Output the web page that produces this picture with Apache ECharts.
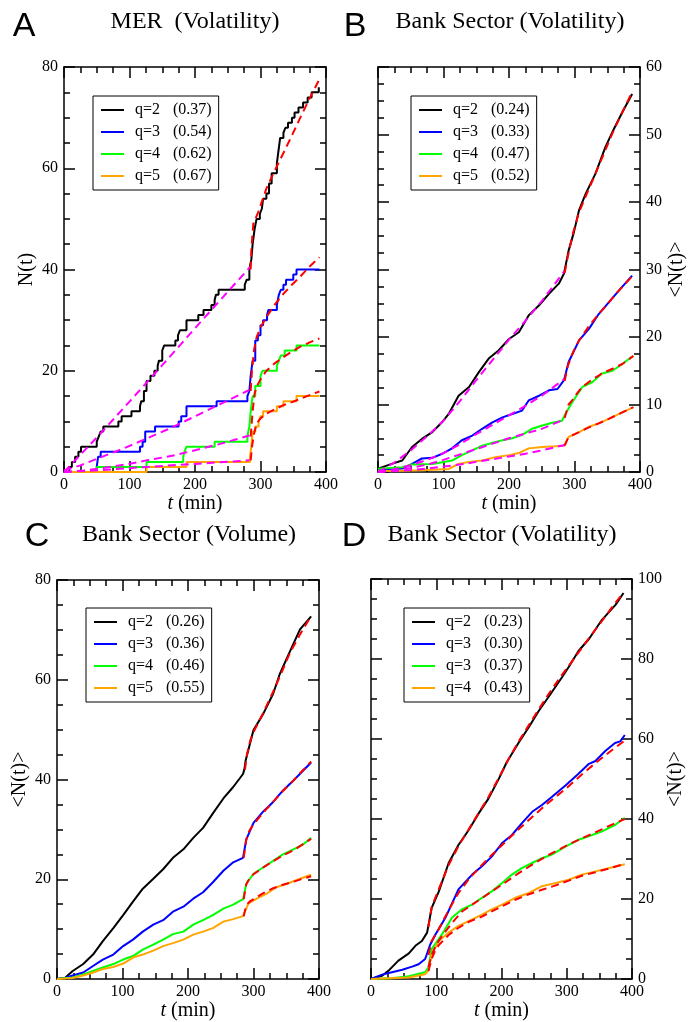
<!DOCTYPE html>
<html>
<head>
<meta charset="utf-8">
<script src="https://cdn.jsdelivr.net/npm/echarts@6/dist/echarts.min.js"></script>
<style>
html,body{margin:0;padding:0;background:#fff;}
#main{width:699px;height:1022px;}
</style>
</head>
<body>
<div id="main"></div>
<script>
// ---- panel A : MER (Volatility), step counts [t, N after jump]
var aQ2 = [[0,0],[8,1],[12,2],[17,3],[22,4],[26,5],[50,6],[53,7],[56,8],[60,9],[83,10],[88,11],[103,12],[116,13],[118,14],[122,16],[126,18],[132,19],[138,20],[143,21],[145,22],[150,24],[153,25],[170,26],[174,27],[177,28],[187,30],[205,31],[213,32],[225,33],[230,34],[232,35],[236,36],[276,37],[279,38],[283,40],[286,42],[288,45],[291,48],[294,50],[299,51],[302,52],[304,54],[309,55],[313,57],[317,59],[325,61],[328,64],[330,66],[335,67],[338,68],[342,69],[348,70],[352,71],[358,72],[365,73],[372,74],[378,75],[389,76],[390,76]];
var aQ3 = [[0,0],[50,1],[52,3],[56,4],[116,5],[120,6],[124,8],[139,9],[175,10],[179,11],[187,13],[233,14],[280,15],[283,16],[285,19],[288,22],[292,26],[296,27],[300,29],[304,30],[310,31],[312,32],[325,33],[328,35],[331,36],[335,37],[339,38],[350,39],[355,40],[390,40]];
var aQ4 = [[0,0],[50,1],[126,2],[182,3],[184,4],[187,5],[230,6],[280,7],[283,9],[285,12],[288,15],[292,17],[300,19],[303,20],[325,21],[328,22],[331,23],[337,24],[355,25],[390,25]];
var aQ5 = [[0,0],[126,1],[187,2],[284,3],[286,5],[288,8],[292,9],[297,10],[300,11],[304,12],[325,13],[335,14],[355,15],[390,15]];
var aPre = [
  [[0,0],[50,6.8],[100,13.9],[150,21.1],[200,28.4],[250,35.6],[285,40.6]],
  [[0,0.3],[25,1.3],[50,2.6],[90,4.6],[126,6.6],[165,8.8],[200,11],[240,13.5],[283,16.2]],
  [[0,0],[30,0.3],[60,0.8],[95,1.5],[126,2.3],[165,3.2],[200,4.3],[240,5.6],[283,7.2]],
  [[0,0],[60,0.4],[126,1.0],[200,1.6],[283,2.3]]
];
var aPost = [
  [[285,40],[286,44],[289,49],[297,51.5],[309,56],[322,59.6],[335,63],[348,66.5],[360,69.8],[375,73.8],[390,77.6]],
  [[285,16],[287,20],[290,24],[294,26.6],[300,28.6],[309,30.6],[322,33.1],[335,35.2],[348,37],[360,38.5],[375,40.6],[390,42.4]],
  [[285,7],[288,12],[291,15.5],[294,16.8],[300,18.3],[309,20],[322,21.5],[335,22.7],[348,23.8],[360,24.7],[375,25.6],[390,26.4]],
  [[285,2.3],[287,5],[290,7.5],[294,9.5],[300,10.6],[309,11.5],[322,12.4],[335,13.2],[348,13.8],[360,14.4],[375,15.2],[390,15.9]]
];

// ---- panel B : Bank Sector (Volatility)
var bQ2 = [[0,0.5],[21,1.2],[37,1.7],[52,3.7],[67,4.9],[83,5.9],[98,7.4],[108,8.6],[123,11.3],[139,12.6],[154,14.8],[169,16.8],[184,18],[200,19.7],[215,20.7],[230,23.2],[246,24.7],[261,26.4],[276,27.9],[284,29.4],[291,32.8],[299,35.5],[307,38.8],[317,41.2],[332,44.2],[347,48.1],[358,50.4],[373,53.3],[388,56]];
var bQ3 = [[0,0.3],[37,0.5],[52,1.2],[67,2.0],[83,2.1],[98,2.7],[113,3.5],[128,4.7],[144,5.4],[159,6.4],[174,7.3],[190,8.1],[205,8.6],[220,9.1],[230,10.6],[246,11.3],[261,12.1],[274,12.3],[284,13.6],[291,16.3],[307,19.5],[322,21.2],[337,23.4],[353,25.2],[368,26.9],[388,29.1]];
var bQ4 = [[0,0.5],[37,0.7],[52,1.1],[83,1.2],[113,1.7],[128,2.5],[144,3.2],[159,3.9],[174,4.3],[190,4.7],[205,5.0],[220,5.5],[235,6.4],[251,6.9],[266,7.3],[281,7.6],[286,8.6],[297,10.4],[312,12.6],[327,13.3],[342,14.6],[358,15.0],[373,16.0],[388,17.1]];
var bQ5 = [[0,0.2],[21,0.15],[67,0.25],[108,0.45],[123,1.2],[139,1.5],[159,1.7],[179,2.2],[200,2.5],[215,2.8],[230,3.5],[251,3.7],[271,3.8],[284,3.9],[291,5.2],[307,5.9],[322,6.7],[337,7.2],[353,7.9],[368,8.6],[388,9.5]];
var bPre = [
  [[0,0],[25,1.4],[50,3.2],[75,5.3],[100,7.6],[125,10.5],[150,13.6],[175,16.6],[200,19.6],[225,22.4],[250,25.3],[285,29.8]],
  [[0,0],[25,0.4],[50,1.0],[75,1.8],[100,2.8],[125,4.1],[150,5.6],[175,7.0],[200,8.4],[225,9.8],[250,11.3],[285,13.8]],
  [[0,0],[25,0.2],[50,0.6],[75,1.1],[100,1.8],[125,2.6],[150,3.4],[175,4.2],[200,5.0],[225,5.7],[250,6.4],[285,7.8]],
  [[0,0],[50,0.3],[75,0.5],[100,0.8],[125,1.1],[150,1.5],[175,1.9],[200,2.3],[225,2.7],[250,3.2],[285,4.0]]
];
var bPost = [
  [[285,29.5],[290,32],[298,35.5],[307,38.5],[320,41.5],[332,44.2],[345,47.2],[358,50.2],[373,53.3],[388,56.3]],
  [[285,13.5],[290,15.8],[298,17.8],[307,19.5],[322,21.6],[337,23.4],[353,25.2],[368,26.9],[390,29.2]],
  [[285,8],[291,10],[297,10.7],[305,11.8],[312,12.6],[327,13.7],[342,14.6],[358,15.3],[373,16.0],[390,17.2]],
  [[285,3.9],[290,5.0],[298,5.5],[307,5.9],[322,6.6],[337,7.2],[353,7.9],[368,8.6],[390,9.6]]
];

// ---- panel C : Bank Sector (Volume)
var cQ2 = [[0,0],[12,0.2],[24,1.6],[40,3.0],[55,4.9],[70,7.6],[86,10.2],[101,12.8],[116,15.5],[131,18.1],[147,20.1],[162,22.0],[177,24.3],[193,26.0],[208,28.3],[223,30.3],[238,33.2],[254,36.2],[269,38.5],[284,41.1],[286,42],[288,43.8],[300,49.9],[315,53.2],[330,57.2],[340,61.1],[356,65.8],[371,70.1],[388,72.7]];
var cQ3 = [[0,0],[12,0.2],[24,0.7],[40,1.3],[55,2.6],[70,3.9],[86,4.9],[101,6.6],[116,7.9],[131,9.5],[147,10.9],[162,11.8],[177,13.5],[193,14.5],[208,16.1],[223,17.4],[238,19.4],[254,21.7],[269,23.4],[284,24.3],[289,28],[300,31.3],[315,33.6],[330,35.5],[345,37.8],[361,39.8],[376,41.8],[388,43.4]];
var cQ4 = [[0,0],[24,0.3],[40,0.9],[55,1.6],[70,2.3],[86,3.0],[101,3.9],[116,4.6],[131,5.9],[147,6.9],[162,7.9],[177,9.0],[193,9.5],[208,10.9],[223,11.8],[238,12.8],[254,14.1],[269,14.9],[284,16.0],[289,19.1],[300,21.1],[315,22.4],[330,23.7],[345,25],[361,26],[376,27],[388,28.3]];
var cQ5 = [[0,0],[24,0.2],[40,0.7],[55,1.3],[70,2.0],[86,2.4],[101,3.1],[116,4.3],[131,4.9],[147,5.7],[162,6.6],[177,7.2],[193,7.9],[208,8.9],[223,9.5],[238,10.2],[254,11.5],[269,12.0],[284,12.6],[292,15.1],[305,16.1],[320,17.1],[335,18.4],[351,19.1],[371,20.1],[388,20.9]];
var cPost = [
  [[287,42],[290,45],[295,47.8],[300,49.5],[315,53.4],[330,57.6],[343,61.5],[356,65.5],[372,69.3],[388,72.8]],
  [[285,24.3],[289,28],[294,29.8],[300,31],[315,33.4],[330,35.5],[345,37.7],[361,39.8],[375,41.8],[388,43.6]],
  [[285,16],[289,19],[294,20.2],[300,21],[315,22.4],[330,23.6],[345,24.8],[361,25.8],[375,27],[388,28.1]],
  [[285,12.6],[289,14.8],[294,15.5],[300,16],[315,17.2],[330,18.2],[345,18.9],[361,19.5],[375,20.1],[388,20.6]]
];

// ---- panel D : Bank Sector (Volatility)
var dQ2 = [[0,0],[17,0.8],[27,2.1],[42,4.6],[58,6.4],[68,8.3],[78,9.5],[86,11.6],[93,17.8],[104,21.9],[119,29],[134,33.5],[150,37.3],[165,41.4],[180,45.1],[196,50.1],[208,54.2],[226,59],[242,63],[257,67],[272,70.5],[293,75.5],[303,78],[318,82],[334,85],[354,89.8],[375,93.6],[387,96.5]];
var dQ3 = [[0,0],[17,1.1],[32,1.7],[48,2.3],[63,3.1],[73,3.7],[83,5.0],[91,8.7],[99,11.2],[114,15.3],[134,22.4],[155,26.1],[170,28.2],[185,30.6],[201,34],[216,36],[231,38.9],[247,41.8],[262,43.5],[277,45.5],[298,48.4],[318,51.3],[334,53.8],[344,54.5],[359,57],[374,59],[382,59.4],[389,61]];
var dQ4 = [[0,0],[32,0.2],[58,0.7],[83,1.7],[88,2.9],[93,7.5],[109,11.2],[124,15.3],[139,17.4],[155,18.6],[170,20.3],[185,21.9],[201,24],[216,26.1],[231,27.7],[247,29],[262,30.2],[277,31.1],[298,33.1],[318,34.8],[339,36],[354,36.9],[374,38.5],[389,40.3]];
var dQ5 = [[0,0],[58,0.4],[83,1.2],[88,2.1],[93,6.2],[104,9.5],[119,11.6],[134,13.3],[155,14.9],[170,16.1],[185,17.4],[201,18.6],[221,20.3],[242,21.5],[262,23.2],[283,24],[303,24.8],[323,26.1],[344,26.9],[364,27.7],[389,28.7]];
var dPost = [
  [[88,13],[93,18],[104,22.5],[119,28.5],[134,33.2],[150,37.5],[165,41.5],[180,45.5],[196,50.3],[211,55],[226,59.3],[242,63.5],[257,67.4],[272,71.2],[292,75.9],[313,80.5],[333,85],[354,89.5],[370,93.1],[387,96.6]],
  [[88,6],[93,9.5],[104,12.5],[119,17.2],[134,21.5],[150,25],[170,28.5],[185,31],[201,33.5],[224,37.1],[247,40.5],[272,44.1],[298,47.5],[321,50.8],[344,54],[366,56.8],[388,59.5]],
  [[88,3],[93,6],[100,8.6],[109,10.8],[124,14],[139,16.8],[155,18.6],[170,20.2],[185,21.9],[201,23.6],[224,26.2],[247,28.6],[272,31],[298,33.2],[318,34.8],[339,36.3],[364,38.2],[389,40]],
  [[88,2],[93,5],[98,7],[104,8.5],[119,11],[134,12.8],[150,14.3],[170,15.6],[185,16.9],[201,18.2],[221,19.8],[242,21.2],[262,22.3],[283,23.4],[303,24.6],[323,25.8],[344,26.7],[364,27.6],[389,28.8]]
];

// legend texts
var legA = [['q=2','(0.37)'],['q=3','(0.54)'],['q=4','(0.62)'],['q=5','(0.67)']];
var legB = [['q=2','(0.24)'],['q=3','(0.33)'],['q=4','(0.47)'],['q=5','(0.52)']];
var legC = [['q=2','(0.26)'],['q=3','(0.36)'],['q=4','(0.46)'],['q=5','(0.55)']];
var legD = [['q=2','(0.23)'],['q=3','(0.30)'],['q=3','(0.37)'],['q=4','(0.43)']];

// axis ranges
var yMax = [80, 60, 80, 100];
var yStep = [20, 10, 20, 20];
var yNames = ['N(t)', '<N(t)>', '<N(t)>', '<N(t)>'];
var titles = ['MER  (Volatility)', 'Bank Sector (Volatility)', 'Bank Sector (Volume)', 'Bank Sector (Volatility)'];

var colors = ['#000000', '#0000ff', '#00ff00', '#ffa500'];
var SERIF = '"Liberation Serif", "Times New Roman", serif';

var grids = [
  {left: 64, top: 67, width: 262, height: 405},
  {left: 378, top: 67, width: 262, height: 405},
  {left: 57, top: 580, width: 262, height: 404},
  {left: 371, top: 579, width: 261, height: 405}
];
var yRight = [false, true, false, true];

var tickLine = {color: '#000', width: 1.5};

var xAxes = [], yAxes = [];
for (var i = 0; i < 4; i++) {
  xAxes.push({
    type: 'value', gridIndex: i, min: 0, max: 400, interval: 100, position: 'bottom',
    axisLine: {onZero: false, lineStyle: tickLine},
    axisTick: {inside: true, length: 11, lineStyle: tickLine},
    minorTick: {show: true, splitNumber: 4, length: 6, lineStyle: tickLine},
    splitLine: {show: false},
    axisLabel: {color: '#000', fontFamily: SERIF, fontSize: 16, margin: 5},
    name: '{it|t} (min)', nameLocation: 'middle', nameGap: 22,
    nameTextStyle: {color: '#000', fontFamily: SERIF, fontSize: 20,
      rich: {it: {fontStyle: 'italic', fontFamily: SERIF, fontSize: 20, color: '#000'}}}
  });
  yAxes.push({
    type: 'value', gridIndex: i, min: 0, max: yMax[i], interval: yStep[i],
    position: yRight[i] ? 'right' : 'left',
    axisLine: {onZero: false, lineStyle: tickLine},
    axisTick: {inside: true, length: 11, lineStyle: tickLine},
    minorTick: {show: true, splitNumber: 4, length: 6, lineStyle: tickLine},
    splitLine: {show: false},
    axisLabel: {color: '#000', fontFamily: SERIF, fontSize: 16, margin: 6},
    name: yNames[i], nameLocation: 'middle', nameGap: 27, nameRotate: 90,
    nameTextStyle: {color: '#000', fontFamily: SERIF, fontSize: 20}
  });
}
// mirrored frame axes (ticks on the opposite sides)
for (var j = 0; j < 4; j++) {
  xAxes.push({
    type: 'value', gridIndex: j, min: 0, max: 400, interval: 100, position: 'top',
    axisLine: {onZero: false, lineStyle: tickLine},
    axisTick: {inside: true, length: 11, lineStyle: tickLine},
    minorTick: {show: true, splitNumber: 4, length: 6, lineStyle: tickLine},
    splitLine: {show: false}, axisLabel: {show: false}
  });
  yAxes.push({
    type: 'value', gridIndex: j, min: 0, max: yMax[j], interval: yStep[j],
    position: yRight[j] ? 'left' : 'right',
    axisLine: {onZero: false, lineStyle: tickLine},
    axisTick: {inside: true, length: 11, lineStyle: tickLine},
    minorTick: {show: true, splitNumber: 4, length: 6, lineStyle: tickLine},
    splitLine: {show: false}, axisLabel: {show: false}
  });
}

var series = [];
function curve(p, name, data, color, stepped) {
  series.push({
    name: name, type: 'line', xAxisIndex: p, yAxisIndex: p, data: data,
    symbol: 'none', step: stepped ? 'end' : false,
    lineStyle: {color: color, width: 2}, itemStyle: {color: color}, z: 2
  });
}
function fit(p, data, color) {
  series.push({
    type: 'line', xAxisIndex: p, yAxisIndex: p, data: data, symbol: 'none',
    lineStyle: {color: color, width: 2, type: [8, 5]}, z: 3
  });
}

var panelData = [[aQ2, aQ3, aQ4, aQ5], [bQ2, bQ3, bQ4, bQ5], [cQ2, cQ3, cQ4, cQ5], [dQ2, dQ3, dQ4, dQ5]];
var pres = [aPre, bPre, null, null];
var posts = [aPost, bPost, cPost, dPost];
var legTexts = [legA, legB, legC, legD];
var letters = ['A', 'B', 'C', 'D'];
var legendNames = {};

for (var p = 0; p < 4; p++) {
  for (var k = 0; k < 4; k++) {
    var nm = letters[p] + k;
    legendNames[nm] = legTexts[p][k];
    curve(p, nm, panelData[p][k], colors[k], p === 0);
  }
  for (var k2 = 0; k2 < 4; k2++) {
    if (pres[p]) fit(p, pres[p][k2], '#ff00ff');
    fit(p, posts[p][k2], '#ff0000');
  }
}

var legendPos = [[93, 96], [411, 96], [86, 608], [404, 608]];
var legends = [];
for (var q = 0; q < 4; q++) {
  legends.push({
    data: [letters[q] + '0', letters[q] + '1', letters[q] + '2', letters[q] + '3'],
    orient: 'vertical', left: legendPos[q][0], top: legendPos[q][1],
    padding: [6, 7, 6, 7], itemWidth: 23, itemHeight: 14, itemGap: 6,
    borderColor: '#000', borderWidth: 1, backgroundColor: '#fff',
    selectedMode: false,
    itemStyle: {opacity: 0},
    lineStyle: {width: 2},
    formatter: function (n) {
      return '{a|' + legendNames[n][0] + '}{b|' + legendNames[n][1] + '}';
    },
    textStyle: {
      color: '#000', fontFamily: SERIF, fontSize: 16,
      rich: {
        a: {width: 38, padding: [0, 0, 0, 6], fontFamily: SERIF, fontSize: 16, color: '#000'},
        b: {fontFamily: SERIF, fontSize: 16, color: '#000'}
      }
    }
  });
}

var titlePos = [[195, 22], [510, 22], [189, 535], [502, 535]];
var letterPos = [[24, 27], [355, 27], [37, 537], [354, 537]];
var graphics = [];
for (var g = 0; g < 4; g++) {
  graphics.push({
    type: 'text', x: titlePos[g][0], y: titlePos[g][1],
    style: {text: titles[g], fill: '#000', font: '24px ' + SERIF, align: 'center', verticalAlign: 'middle'}
  });
  graphics.push({
    type: 'text', x: letterPos[g][0], y: letterPos[g][1],
    style: {text: letters[g], fill: '#000', font: '34px "Liberation Sans", Arial, sans-serif', align: 'center', verticalAlign: 'middle'}
  });
}

var chart = echarts.init(document.getElementById('main'));
var option = {
  animation: false,
  backgroundColor: '#fff',
  grid: grids,
  xAxis: xAxes,
  yAxis: yAxes,
  legend: legends,
  graphic: graphics,
  series: series
};
chart.setOption(option);
</script>
</body>
</html>
